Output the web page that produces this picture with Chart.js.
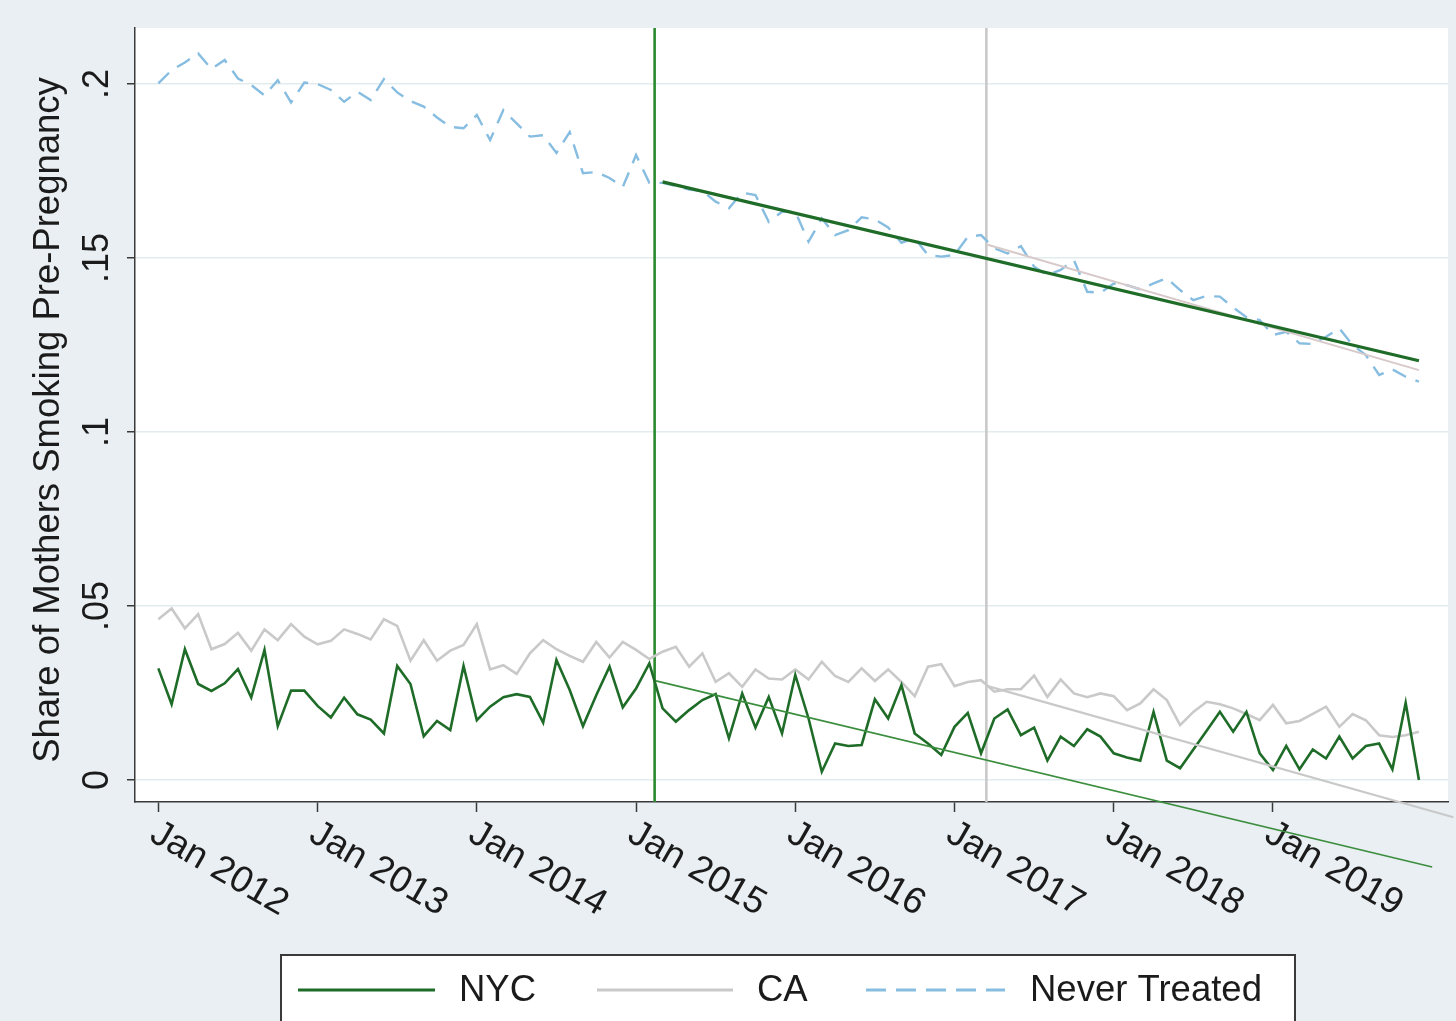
<!DOCTYPE html>
<html>
<head>
<meta charset="utf-8">
<script src="https://cdn.jsdelivr.net/npm/chart.js@4.4.1/dist/chart.umd.min.js"></script>
<style>
  html, body { margin: 0; padding: 0; background: #e9eff2; }
  canvas { display: block; }
</style>
</head>
<body>
<canvas id="chart" width="1456" height="1021"></canvas>
<script>
// Monthly share of mothers smoking before pregnancy, Jan 2012 - Dec 2019
// (x = months since Jan 2012).
const nycShare = [
  0.0321, 0.0218, 0.0376, 0.0276, 0.0256, 0.0278, 0.0319, 0.0237, 0.0374, 0.0155,
  0.0257, 0.0257, 0.0213, 0.0180, 0.0237, 0.0189, 0.0174, 0.0134, 0.0328, 0.0276,
  0.0126, 0.0170, 0.0144, 0.0328, 0.0172, 0.0211, 0.0238, 0.0247, 0.0239, 0.0165,
  0.0345, 0.0259, 0.0155, 0.0244, 0.0326, 0.0209, 0.0263, 0.0335, 0.0206, 0.0168,
  0.0201, 0.0230, 0.0247, 0.0120, 0.0249, 0.0151, 0.0239, 0.0134, 0.0302, 0.0177,
  0.0024, 0.0105, 0.0098, 0.0101, 0.0232, 0.0177, 0.0273, 0.0134, 0.0105, 0.0072,
  0.0153, 0.0193, 0.0077, 0.0177, 0.0203, 0.0129, 0.0151, 0.0056, 0.0125, 0.0098,
  0.0146, 0.0125, 0.0077, 0.0065, 0.0056, 0.0196, 0.0056, 0.0034, 0.0088, 0.0142,
  0.0196, 0.0139, 0.0196, 0.0077, 0.0029, 0.0098, 0.0031, 0.0088, 0.0062, 0.0125,
  0.0062, 0.0098, 0.0105, 0.0031, 0.0222, 0.0000
];
const caShare = [
  0.0462, 0.0493, 0.0436, 0.0477, 0.0376, 0.0391, 0.0423, 0.0372, 0.0433, 0.0402,
  0.0448, 0.0412, 0.0390, 0.0400, 0.0433, 0.0420, 0.0404, 0.0462, 0.0443, 0.0343,
  0.0402, 0.0343, 0.0372, 0.0388, 0.0448, 0.0318, 0.0330, 0.0305, 0.0364, 0.0402,
  0.0376, 0.0357, 0.0340, 0.0397, 0.0352, 0.0397, 0.0374, 0.0348, 0.0369, 0.0383,
  0.0326, 0.0364, 0.0282, 0.0307, 0.0268, 0.0318, 0.0292, 0.0289, 0.0318, 0.0289,
  0.0340, 0.0299, 0.0282, 0.0321, 0.0285, 0.0318, 0.0282, 0.0241, 0.0326, 0.0333,
  0.0270, 0.0282, 0.0287, 0.0254, 0.0261, 0.0261, 0.0300, 0.0239, 0.0289, 0.0249,
  0.0238, 0.0249, 0.0241, 0.0201, 0.0220, 0.0261, 0.0230, 0.0158, 0.0196, 0.0225,
  0.0218, 0.0206, 0.0190, 0.0172, 0.0216, 0.0163, 0.0170, 0.0190, 0.0211, 0.0153,
  0.0190, 0.0172, 0.0129, 0.0124, 0.0129, 0.0139
];
const neverTreatedShare = [
  0.2002, 0.2040, 0.2062, 0.2088, 0.2043, 0.2069, 0.2016, 0.1997, 0.1967, 0.2011,
  0.1947, 0.2004, 0.2000, 0.1983, 0.1949, 0.1978, 0.1954, 0.2014, 0.1976, 0.1951,
  0.1935, 0.1904, 0.1877, 0.1873, 0.1911, 0.1839, 0.1925, 0.1887, 0.1849, 0.1853,
  0.1802, 0.1862, 0.1744, 0.1747, 0.1730, 0.1704, 0.1796, 0.1716, 0.1716, 0.1707,
  0.1697, 0.1693, 0.1662, 0.1643, 0.1688, 0.1681, 0.1604, 0.1633, 0.1633, 0.1547,
  0.1614, 0.1566, 0.1580, 0.1617, 0.1611, 0.1588, 0.1544, 0.1557, 0.1509, 0.1504,
  0.1509, 0.1561, 0.1566, 0.1528, 0.1513, 0.1534, 0.1475, 0.1451, 0.1466, 0.1494,
  0.1403, 0.1400, 0.1427, 0.1422, 0.1410, 0.1427, 0.1442, 0.1408, 0.1379, 0.1391,
  0.1389, 0.1358, 0.1330, 0.1322, 0.1279, 0.1288, 0.1255, 0.1253, 0.1274, 0.1298,
  0.1250, 0.1221, 0.1164, 0.1180, 0.1159, 0.1145
];

// Fitted post-treatment trends (month, share) at each end.
const ntTrendNycX = [38, 95];      const ntTrendNycY = [0.1719, 0.1205];
const ntTrendCaX  = [62.5, 95];    const ntTrendCaY  = [0.1538, 0.1178];
const nycTrendX   = [37.5, 96];    const nycTrendY   = [0.0285, -0.0250];
const caTrendX    = [62.5, 97.6];  const caTrendY    = [0.0270, -0.0107];

// Treatment dates (months since Jan 2012).
const nycTreatMonth = 37.4;
const caTreatMonth = 62.4;

// Axes.
const xTickMonths = [0, 12, 24, 36, 48, 60, 72, 84];
const xTickLabels = ['Jan 2012', 'Jan 2013', 'Jan 2014', 'Jan 2015', 'Jan 2016', 'Jan 2017', 'Jan 2018', 'Jan 2019'];
const yTickValues = [0, 0.05, 0.1, 0.15, 0.2];
const yTickLabels = ['0', '.05', '.1', '.15', '.2'];
const yTitle = 'Share of Mothers Smoking Pre-Pregnancy';
const xRange = [-1.76, 97.19];
const yRange = [-0.0063, 0.2161];

const seriesNames = ['NYC', 'CA', 'Never Treated'];

const FONT = '"Liberation Sans", Arial, Helvetica, sans-serif';
const COL = {
  nyc: '#1f6c28',
  nycV: '#2b8a2f',
  nycThin: '#3c8e3f',
  ca: '#c9c9c9',
  caTrendNt: '#d8caca',
  never: '#86bde0',
  axis: '#3a3a3a',
  grid: '#e2ebee',
  text: '#1b1b1b',
  bg: '#e9eff2'
};

const toPoints = arr => arr.map((v, i) => ({ x: i, y: v }));
const pairPoints = (xs, ys) => xs.map((x, i) => ({ x, y: ys[i] }));
const vline = m => [{ x: m, y: yRange[0] }, { x: m, y: yRange[1] }];

const base = { pointRadius: 0, pointHoverRadius: 0, fill: false, tension: 0 };

const datasets = [
  Object.assign({}, base, { label: 'NT trend (NYC)', data: pairPoints(ntTrendNycX, ntTrendNycY), borderColor: COL.nyc, borderWidth: 3.2 }),
  Object.assign({}, base, { label: 'NT trend (CA)', data: pairPoints(ntTrendCaX, ntTrendCaY), borderColor: COL.caTrendNt, borderWidth: 2 }),
  Object.assign({}, base, { label: 'NYC trend', data: pairPoints(nycTrendX, nycTrendY), borderColor: COL.nycThin, borderWidth: 1.6, clip: false }),
  Object.assign({}, base, { label: 'CA trend', data: pairPoints(caTrendX, caTrendY), borderColor: COL.ca, borderWidth: 2.2, clip: false }),
  Object.assign({}, base, { label: seriesNames[0], data: toPoints(nycShare), borderColor: COL.nyc, borderWidth: 2.6 }),
  Object.assign({}, base, { label: seriesNames[1], data: toPoints(caShare), borderColor: COL.ca, borderWidth: 2.6 }),
  Object.assign({}, base, { label: seriesNames[2], data: toPoints(neverTreatedShare), borderColor: COL.never, borderWidth: 2.4, borderDash: [15, 10] }),
  Object.assign({}, base, { label: 'NYC start', data: vline(nycTreatMonth), borderColor: COL.nycV, borderWidth: 2.6 }),
  Object.assign({}, base, { label: 'CA start', data: vline(caTreatMonth), borderColor: COL.ca, borderWidth: 2.6 })
];

// Background panels, rotated axis labels, title and the boxed legend.
const stataLook = {
  id: 'stataLook',
  beforeDraw(chart) {
    const { ctx, chartArea: a } = chart;
    ctx.save();
    ctx.fillStyle = COL.bg;
    ctx.fillRect(0, 0, chart.width, chart.height);
    ctx.fillStyle = '#ffffff';
    ctx.fillRect(a.left, a.top, a.right - a.left, a.bottom - a.top);
    ctx.restore();
  },
  beforeDatasetsDraw(chart) {
    const { ctx, scales } = chart;
    const xs = scales.x, ys = scales.y;
    ctx.save();
    ctx.fillStyle = COL.text;
    // y tick labels, reading upward
    ctx.font = '36px ' + FONT;
    ctx.textAlign = 'center';
    ctx.textBaseline = 'alphabetic';
    yTickValues.forEach((v, i) => {
      ctx.save();
      ctx.translate(108, ys.getPixelForValue(v));
      ctx.rotate(-Math.PI / 2);
      ctx.fillText(yTickLabels[i], 0, 0);
      ctx.restore();
    });
    // y axis title
    ctx.save();
    ctx.translate(59, 420);
    ctx.rotate(-Math.PI / 2);
    ctx.font = '36.5px ' + FONT;
    ctx.fillText(yTitle, 0, 0);
    ctx.restore();
    // x tick labels, slanted downward
    ctx.font = '37px ' + FONT;
    ctx.textAlign = 'left';
    ctx.textBaseline = 'top';
    xTickMonths.forEach((m, i) => {
      ctx.save();
      ctx.translate(xs.getPixelForValue(m) + 4, 815);
      ctx.rotate(Math.PI / 6);
      ctx.fillText(xTickLabels[i], 0, 0);
      ctx.restore();
    });
    ctx.restore();
  },
  afterDraw(chart) {
    const { ctx } = chart;
    const items = [
      { name: seriesNames[0], color: COL.nyc, width: 3, dash: [], x0: 298, x1: 435, tx: 459 },
      { name: seriesNames[1], color: COL.ca, width: 3, dash: [], x0: 597, x1: 733, tx: 757 },
      { name: seriesNames[2], color: COL.never, width: 3, dash: [20, 10], x0: 866, x1: 1005, tx: 1030 }
    ];
    ctx.save();
    ctx.fillStyle = '#ffffff';
    ctx.fillRect(281, 955, 1014, 80);
    ctx.strokeStyle = COL.axis;
    ctx.lineWidth = 2;
    ctx.strokeRect(281, 955, 1014, 80);
    const ly = 990;
    items.forEach(it => {
      ctx.beginPath();
      ctx.setLineDash(it.dash);
      ctx.strokeStyle = it.color;
      ctx.lineWidth = it.width;
      ctx.moveTo(it.x0, ly);
      ctx.lineTo(it.x1, ly);
      ctx.stroke();
      ctx.setLineDash([]);
      ctx.fillStyle = COL.text;
      ctx.font = '36.5px ' + FONT;
      ctx.textAlign = 'left';
      ctx.textBaseline = 'middle';
      ctx.fillText(it.name, it.tx, ly + 1);
    });
    ctx.restore();
  }
};

new Chart(document.getElementById('chart'), {
  type: 'line',
  data: { datasets },
  options: {
    responsive: false,
    animation: false,
    events: [],
    layout: { padding: { left: 0, right: 8, top: 28, bottom: 0 } },
    plugins: { legend: { display: false }, tooltip: { enabled: false } },
    scales: {
      x: {
        type: 'linear',
        min: xRange[0],
        max: xRange[1],
        afterBuildTicks: s => { s.ticks = xTickMonths.map(v => ({ value: v })); },
        afterFit: s => { s.height = 219; },
        ticks: { display: false },
        grid: { drawOnChartArea: false, drawTicks: true, tickLength: 10, tickColor: COL.axis, tickWidth: 1.5 },
        border: { display: true, color: COL.axis, width: 1.5 }
      },
      y: {
        type: 'linear',
        min: yRange[0],
        max: yRange[1],
        afterBuildTicks: s => { s.ticks = yTickValues.map(v => ({ value: v })); },
        afterFit: s => { s.width = 135; },
        ticks: { display: false },
        grid: { color: COL.grid, lineWidth: 1.5, drawTicks: true, tickLength: 8, tickColor: COL.axis, tickWidth: 1.5 },
        border: { display: true, color: COL.axis, width: 1.5 }
      }
    }
  },
  plugins: [stataLook]
});
</script>
</body>
</html>
